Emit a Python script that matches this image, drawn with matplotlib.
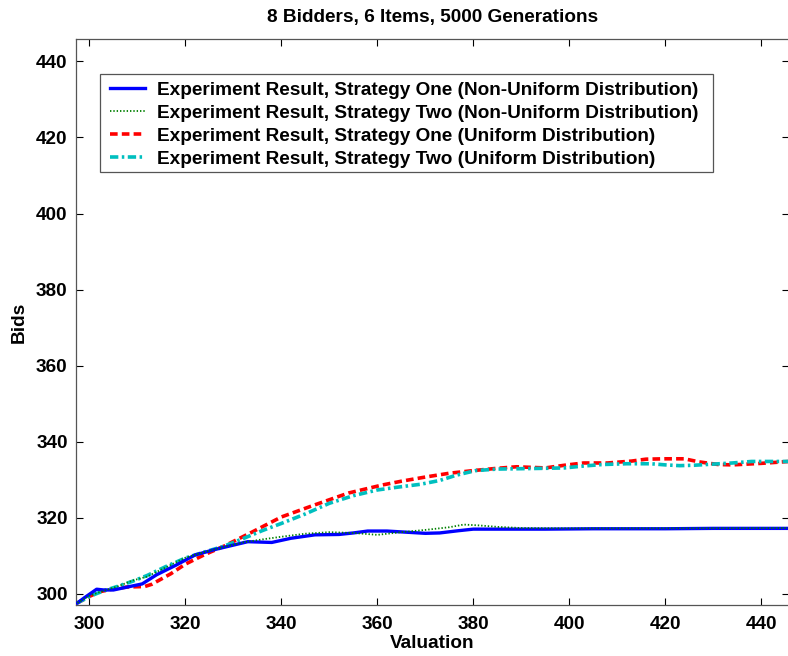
import matplotlib
matplotlib.use("Agg")
import matplotlib.pyplot as plt
from matplotlib.patches import Rectangle

plt.rcParams['font.family'] = ['Liberation Sans', 'DejaVu Sans']
plt.rcParams['font.weight'] = 'bold'
plt.rcParams['lines.scale_dashes'] = False

# Strategy One, non-uniform valuation distribution
x_one_nu = [297.5, 299, 301.5, 303, 305, 308, 311, 314, 318, 322, 326, 330, 333, 338,
            342, 347, 352, 355, 358, 362, 366, 370, 373, 377, 380, 385, 395, 405, 420,
            430, 445.8]
y_one_nu = [297.6, 299.0, 301.2, 301.0, 301.0, 301.8, 302.6, 305.0, 307.5, 310.2, 311.6,
            312.8, 313.7, 313.5, 314.6, 315.5, 315.6, 316.0, 316.5, 316.5, 316.2, 315.9,
            316.0, 316.6, 317.0, 317.0, 317.0, 317.1, 317.1, 317.2, 317.2]

# Strategy Two, non-uniform valuation distribution
x_two_nu = [297.5, 300, 303, 306, 309, 312, 316, 320, 324, 328, 332, 336, 340, 345, 350,
            355, 360, 365, 370, 375, 378, 381, 385, 390, 400, 420, 445.8]
y_two_nu = [297.6, 299.5, 300.8, 302.0, 303.5, 304.5, 307.0, 309.5, 311.0, 312.3, 313.5,
            314.3, 315.0, 315.8, 316.2, 316.0, 315.5, 316.2, 316.8, 317.5, 318.2, 318.0,
            317.6, 317.3, 317.2, 317.2, 317.3]

# Strategy One, uniform valuation distribution
x_one_u = [297.5, 300, 302, 305, 308, 311.5, 313, 317, 320, 324, 328, 334, 340, 347, 354,
           361, 365, 370, 375, 380, 385, 389, 395, 399, 403, 408, 413, 416, 420, 424, 427,
           431, 434, 440, 445.8]
y_one_u = [297.6, 299.3, 300.5, 301.3, 301.8, 301.9, 302.5, 305.3, 307.8, 310.3, 312.5,
           316.3, 320.2, 323.4, 326.5, 328.6, 329.6, 330.7, 331.7, 332.4, 333.0, 333.4,
           333.1, 333.8, 334.4, 334.4, 334.9, 335.4, 335.5, 335.5, 334.7, 334.0, 333.9,
           334.3, 334.8]

# Strategy Two, uniform valuation distribution
x_two_u = [297.5, 300, 303, 306, 309, 312, 316, 320, 324, 328, 332, 336, 340, 345, 350,
           355, 360, 364, 369, 373, 376.5, 380.5, 385, 390, 395, 399, 403, 407, 412, 417,
           420, 423, 426, 430, 434, 438, 445.8]
y_two_u = [297.6, 299.3, 300.8, 302.0, 303.3, 304.8, 307.2, 309.4, 311.0, 312.5, 314.5,
           316.6, 318.5, 321.0, 323.8, 325.8, 327.3, 328.0, 328.8, 329.8, 331.2, 332.4,
           332.8, 332.9, 333.0, 333.1, 333.6, 334.0, 334.2, 334.2, 333.9, 333.7, 333.8,
           334.1, 334.4, 334.8, 334.8]

labels = [
    "Experiment Result, Strategy One (Non-Uniform Distribution)",
    "Experiment Result, Strategy Two (Non-Uniform Distribution)",
    "Experiment Result, Strategy One (Uniform Distribution)",
    "Experiment Result, Strategy Two (Uniform Distribution)",
]
ticks = [300, 320, 340, 360, 380, 400, 420, 440]

FS = 13.7
W, H = 788, 656

fig = plt.figure(figsize=(W / 100, H / 100), dpi=100)
ax = fig.add_axes([76 / W, 51 / H, 713 / W, 566 / H])

ax.plot(x_one_nu, y_one_nu, color=(0, 0, 1), lw=2.4, label=labels[0], zorder=3)
ax.plot(x_two_nu, y_two_nu, color=(0, 0.5, 0), lw=1.3, dashes=(1.0, 1.4),
        label=labels[1], zorder=4)
ax.plot(x_one_u, y_one_u, color=(1, 0, 0), lw=2.6, dashes=(5.5, 3.0),
        label=labels[2], zorder=2)
ax.plot(x_two_u, y_two_u, color=(0, 0.75, 0.75), lw=2.6, dashes=(6.0, 2.5, 1.8, 2.5),
        label=labels[3], zorder=2.5)

ax.set_xlim(297.2, 445.8)
ax.set_ylim(297.05, 445.9)
ax.set_xticks(ticks)
ax.set_yticks(ticks)
ax.tick_params(direction='in', length=5, width=0.8, top=True, right=True,
               labelsize=FS, colors='black', pad=6)
ax.tick_params(axis='x', pad=8)
for s in ax.spines.values():
    s.set_linewidth(0.9)
    s.set_color('#555555')

ax.set_title("8 Bidders, 6 Items, 5000 Generations", fontsize=13.7, pad=12,
             fontweight='bold')
ax.set_xlabel("Valuation", fontsize=FS, labelpad=1, fontweight='bold')
ax.set_ylabel("Bids", fontsize=FS, labelpad=6, fontweight='bold')

# legend box drawn as its own white frame, entries laid over it
frame = Rectangle((100 / W, 1 - 171.7 / H), 612.7 / W, 97.4 / H,
                  transform=fig.transFigure, facecolor='white', edgecolor='#555555',
                  linewidth=0.9, zorder=5)
fig.add_artist(frame)
leg = ax.legend(loc='upper left', bbox_to_anchor=(110.5 / W, 1 - 81.2 / H),
                bbox_transform=fig.transFigure,
                prop={'size': FS, 'weight': 'bold'}, frameon=False,
                handlelength=1.79, handletextpad=0.63, labelspacing=0.30,
                borderpad=0, borderaxespad=0)
leg.set_zorder(6)
leg.remove()
fig.add_artist(leg)

fig.savefig("out.png", dpi=100)
